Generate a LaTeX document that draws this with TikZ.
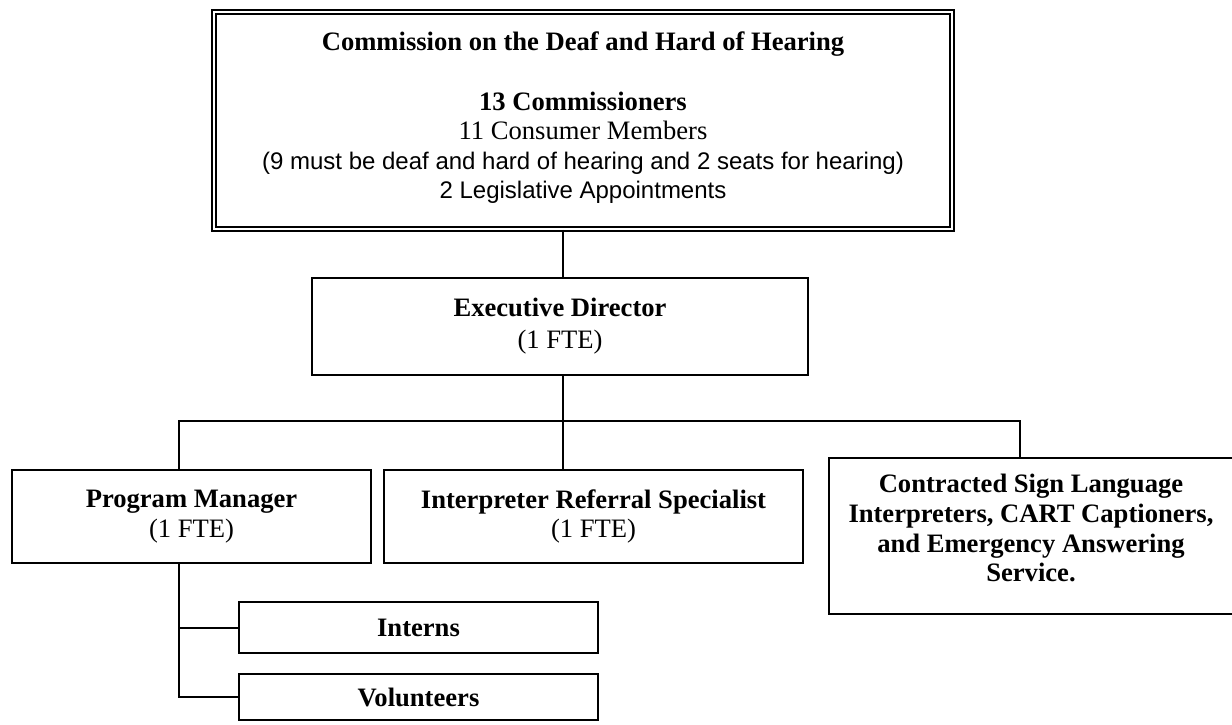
\documentclass[tikz,border=0pt]{standalone}
\usepackage{fontspec}
\setmainfont{Liberation Serif}
\newfontfamily\arialfont{Liberation Sans}
\usetikzlibrary{positioning}

\tikzset{
  orgbox/.style={draw,line width=1pt,align=center,inner sep=2pt,
    font=\fontsize{13.3}{14.8}\selectfont},
  conn/.style={line width=1pt},
}
% invisible depth, lifts the text a little
\newcommand{\lift}[1]{\rule[-#1]{0pt}{0pt}}

\begin{document}
\begin{tikzpicture}[x=0.5pt,y=-0.5pt]
\useasboundingbox (0,0) rectangle (1232,724);
% commission at the top
\node[orgbox,double,double distance=1pt,line width=1.1pt,minimum width=368.8pt,minimum height=108.3pt] (comm) at (583,120.5)
  {\textbf{Commission on the Deaf and Hard of Hearing}\\[14.8pt]
   \textbf{13 Commissioners}\\
   11 Consumer Members\\
   {\arialfont\fontsize{12}{14.8}\selectfont (9 must be deaf and hard of hearing and 2 seats for hearing)}\\
   {\arialfont\fontsize{12}{14.8}\selectfont 2 Legislative Appointments\lift{5pt}}};
\node[orgbox,minimum width=248pt,minimum height=48.5pt] (exec) at (560,326.5)
  {\textbf{Executive Director}\\[1pt](1 FTE)\lift{3pt}};
% staff row
\node[orgbox,minimum width=179.5pt,minimum height=46.5pt] (pm) at (191.5,516.5)
  {\textbf{Program Manager}\\(1 FTE)\lift{1.5pt}};
\node[orgbox,minimum width=209.5pt,minimum height=46.5pt] (irs) at (593.5,516.5)
  {\textbf{Interpreter Referral Specialist}\\(1 FTE)\lift{1.5pt}};
\node[orgbox,minimum width=202pt,minimum height=78pt] (cont) at (1031,536)
  {\textbf{Contracted Sign Language}\\\textbf{Interpreters, CART Captioners,}\\
   \textbf{and Emergency Answering}\\\textbf{Service.}\lift{8pt}};
% under the program manager
\node[orgbox,minimum width=179.5pt,minimum height=25.5pt] (interns) at (418.5,627.5) {\textbf{Interns}};
\node[orgbox,minimum width=179.5pt,minimum height=23pt] (vol) at (418.5,697) {\textbf{Volunteers}};

\coordinate (barL) at (179,421);
\coordinate (trunk) at (563,421);
\coordinate (barR) at (1020,421);
\draw[conn] (comm.south -| trunk) -- (exec.north -| trunk);
\draw[conn] (exec.south -| trunk) -- (irs.north -| trunk);
\draw[conn] (pm.north -| barL) -- (barL) -- (barR) -- (cont.north -| barR);
\draw[conn] (pm.south -| barL) |- (interns.west);
\draw[conn] (pm.south -| barL) |- (vol.west);
\end{tikzpicture}
\end{document}
